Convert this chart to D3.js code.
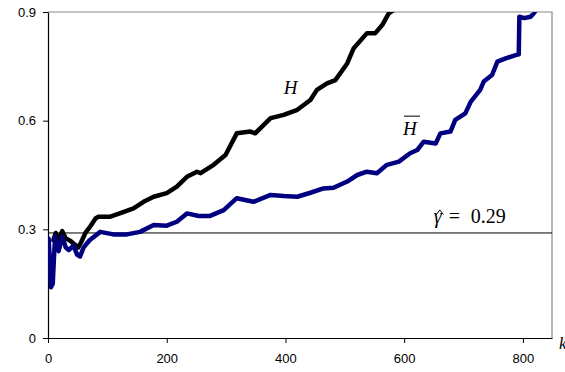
<!DOCTYPE html>
<html>
<head>
<meta charset="utf-8">
<script src="https://cdn.jsdelivr.net/npm/d3@7"></script>
<style>
  body { margin: 0; background: #fff; }
  svg { display: block; }
  .axis text { font-family: "Liberation Sans", Arial, sans-serif; font-size: 13px; fill: #000; }
  .axis path, .axis line { stroke: #000; }
  .lbl { font-family: "Liberation Serif", "Times New Roman", serif; font-style: italic; fill: #000; }
  .lbl.up { font-style: normal; }
</style>
</head>
<body>
<svg id="chart" width="565" height="372"></svg>
<script>
// series: k, value
const hK = [9, 13, 17, 24, 30, 38, 46, 51, 56, 63, 72, 80, 85, 105, 122, 144, 161, 178, 200, 217, 234, 251,
  257, 279, 299, 318, 341, 349, 375, 397, 420, 442, 453, 470, 484, 504, 515, 537, 551, 563, 574, 582];
const hVal = [0.27, 0.29, 0.27, 0.295, 0.275, 0.268, 0.257, 0.25, 0.265, 0.29, 0.31, 0.33, 0.335, 0.335, 0.345, 0.358, 0.376, 0.39, 0.40, 0.418, 0.445, 0.459,
  0.455, 0.478, 0.505, 0.565, 0.57, 0.565, 0.607, 0.616, 0.63, 0.657, 0.685, 0.703, 0.712, 0.758, 0.80, 0.841, 0.841, 0.864, 0.896, 0.905];

const hbK = [1, 3, 5, 8, 10, 12, 15, 18, 24, 30, 35, 43, 49, 54, 60, 70, 88, 110, 133, 155, 178, 200, 217, 234, 254,
  273, 296, 318, 346, 375, 397, 420, 442, 464, 481, 504, 521, 537, 554, 571, 591,
  610, 622, 633, 653, 661, 678, 686, 703, 712, 728, 734, 748, 757, 771, 788, 793, 794, 802, 813, 818, 822];
const hbVal = [0.275, 0.22, 0.14, 0.15, 0.22, 0.28, 0.255, 0.24, 0.28, 0.25, 0.243, 0.255, 0.23, 0.225, 0.25, 0.27, 0.293, 0.286, 0.286, 0.293, 0.312, 0.31, 0.321, 0.344, 0.337,
  0.337, 0.353, 0.386, 0.376, 0.395, 0.392, 0.39, 0.401, 0.413, 0.415, 0.432, 0.45, 0.459, 0.455, 0.478, 0.487,
  0.51, 0.519, 0.542, 0.537, 0.565, 0.57, 0.602, 0.62, 0.652, 0.685, 0.708, 0.726, 0.763, 0.772, 0.781, 0.783, 0.887, 0.883, 0.887, 0.896, 0.905];

const gammaHat = 0.29;
const xTicks = [0, 200, 400, 600, 800];
const yTicks = [0, 0.3, 0.6, 0.9];

const margin = { top: 12, right: 13, bottom: 34, left: 48 };
const width = 565 - margin.left - margin.right;
const height = 372 - margin.top - margin.bottom;

const svg = d3.select('#chart');
const g = svg.append('g').attr('transform', 'translate(' + margin.left + ',' + margin.top + ')');

const x = d3.scaleLinear().domain([0, 849]).range([0, width]);
const y = d3.scaleLinear().domain([0, 0.9]).range([height, 0]);

g.append('defs').append('clipPath').attr('id', 'clip')
  .append('rect').attr('width', width).attr('height', height);

// frame (top/right grey)
g.append('path')
  .attr('d', 'M0,0H' + width + 'V' + height)
  .attr('fill', 'none').attr('stroke', '#888').attr('stroke-width', 1.2);

g.append('g').attr('class', 'axis')
  .attr('transform', 'translate(0,' + height + ')')
  .call(d3.axisBottom(x).tickValues(xTicks).tickSize(5).tickPadding(11).tickSizeOuter(0))
  .call(s => s.select('.domain').attr('stroke-width', 1.2));

g.append('g').attr('class', 'axis')
  .call(d3.axisLeft(y).tickValues(yTicks).tickSize(5).tickPadding(7).tickSizeOuter(0)
    .tickFormat(d => d === 0 ? '0' : d3.format('.1f')(d)))
  .call(s => s.select('.domain').attr('stroke-width', 1.2));

// gamma-hat reference line
g.append('line')
  .attr('x1', 0).attr('x2', width)
  .attr('y1', y(gammaHat)).attr('y2', y(gammaHat))
  .attr('stroke', '#000').attr('stroke-width', 1);

const line = d3.line().x(d => x(d[0])).y(d => y(d[1]));
const series = [
  { id: 'H', pts: d3.zip(hK, hVal), color: '#000' },
  { id: 'Hbar', pts: d3.zip(hbK, hbVal), color: '#000080' }
];
const paths = g.append('g').attr('clip-path', 'url(#clip)');
paths.selectAll('path').data(series).enter().append('path')
  .attr('d', d => line(d.pts))
  .attr('fill', 'none')
  .attr('stroke', d => d.color)
  .attr('stroke-width', 4.5)
  .attr('stroke-linejoin', 'round')
  .attr('stroke-linecap', 'round');

// labels
g.append('text').attr('class', 'lbl')
  .attr('x', x(397)).attr('y', y(0.675))
  .attr('font-size', 19).text('H');

const hb = g.append('g').attr('transform', 'translate(' + x(598) + ',' + y(0.56) + ')');
hb.append('text').attr('class', 'lbl').attr('font-size', 19).text('H');
hb.append('line').attr('x1', 1).attr('x2', 17).attr('y1', -19).attr('y2', -19)
  .attr('stroke', '#000').attr('stroke-width', 1);

// gamma-hat label
const gx = x(650), gy = y(gammaHat) - 10;
const gl = g.append('g').attr('transform', 'translate(' + gx + ',' + gy + ')');
gl.append('text').attr('class', 'lbl').attr('font-size', 20).text('γ');
gl.append('path').attr('d', 'M2.5,-8.5L6,-13L9.5,-8.5')
  .attr('fill', 'none').attr('stroke', '#000').attr('stroke-width', 1);
gl.append('text').attr('class', 'lbl up')
  .attr('x', 15).attr('font-size', 20).text('=');
gl.append('text').attr('class', 'lbl up')
  .attr('x', 37).attr('font-size', 20).text('0.29');

svg.append('text').attr('class', 'lbl')
  .attr('x', 559).attr('y', 349).attr('font-size', 17).text('k');
</script>
</body>
</html>
